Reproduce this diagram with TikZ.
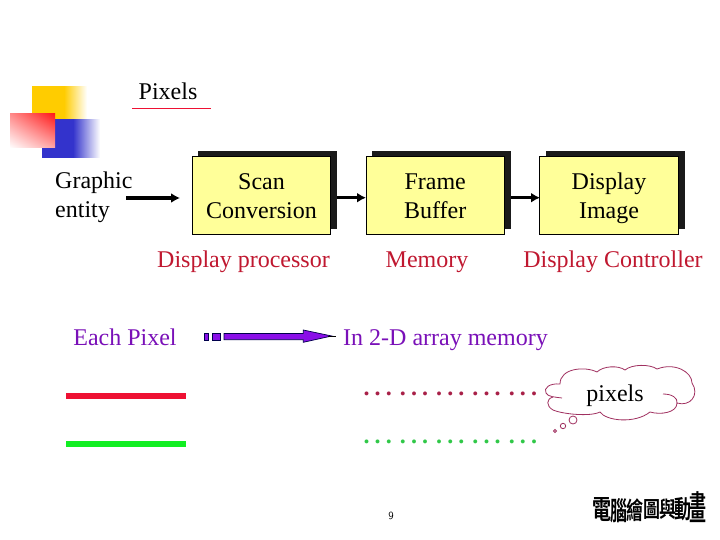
\documentclass[tikz,border=0pt]{standalone}
\usepackage{fontspec}
\setmainfont{Liberation Serif}
\newfontfamily\cjkb{Noto Sans CJK TC Bold}
\usetikzlibrary{arrows.meta,shadings}
\definecolor{boxfill}{HTML}{FFFF99}
\definecolor{shadowc}{HTML}{1A1A1A}
\definecolor{goldc}{HTML}{FFCC00}
\definecolor{bluec}{HTML}{3333CC}
\definecolor{redc}{HTML}{FF1A1A}
\definecolor{purplec}{HTML}{8A0FE8}
\definecolor{linered}{HTML}{EE1133}
\definecolor{linegreen}{HTML}{11EE22}
\definecolor{cloudc}{HTML}{A03060}
\definecolor{labelpurple}{HTML}{7A10B8}
\definecolor{labelred}{HTML}{C01830}
\definecolor{dotred}{HTML}{A82048}
\definecolor{dotgreen}{HTML}{30C848}
\newcommand{\dotgroup}{.\kern5.1pt.\kern5.1pt.}
\newcommand{\dotrow}{\bfseries\dotgroup\kern8.1pt\dotgroup\kern8.1pt\dotgroup\kern8.1pt\dotgroup\kern8.1pt\dotgroup}
\newcommand{\boxline}[1]{\strut\raisebox{-3pt}{#1}}
\tikzset{
 lbl/.style={font=\fontsize{24}{29}\selectfont,inner sep=0pt,anchor=base},
 boxn/.style={draw=black,line width=1pt,fill=boxfill,minimum width=138.4pt,minimum height=77.6pt,inner sep=0pt,align=center,font=\fontsize{24}{29}\selectfont},
 shadow/.style={fill=shadowc,draw=none},
 conn/.style={line width=3.2pt,-{Latex[length=9pt,width=10pt]}},
 cjkc/.style={font=\cjkb\fontsize{20}{20}\selectfont,inner sep=0pt},
 cloudl/.style={draw=cloudc,line width=.8pt},
 parrow/.style={fill=purplec,draw=black!70!blue,line width=.7pt}
}
\begin{document}
\begin{tikzpicture}[x=1pt,y=-1pt]
\useasboundingbox (0,0) rectangle (720,540);
\fill[white] (0,0) rectangle (720,540);
% logo
\fill[goldc] (32,86) rectangle (64,119);
\foreach \i in {0,...,23}{
  \pgfmathsetmacro{\p}{100-\i*100/23}
  \fill[goldc!\p!white] (64+\i,86) rectangle (65.3+\i,119);
}
\fill[bluec] (42,119) rectangle (73,158);
\foreach \i in {0,...,27}{
  \pgfmathsetmacro{\p}{100-\i*100/27}
  \fill[bluec!\p!white] (73+\i,119) rectangle (74.3+\i,158);
}
\shade[lower left=white,upper right=redc,upper left=red!45!white,lower right=red!35!white] (10,114) rectangle (55,148);
% title
\node[lbl] (pix) at (168,99.6) {Pixels};
\draw[draw=linered,line width=.7pt] (132,108) -- (211,108);
% shadows
\fill[shadow] (198.3,151) rectangle (336.7,229.5);
\fill[shadow] (372,151) rectangle (510.5,229.5);
\fill[shadow] (546,151) rectangle (684.5,229.5);
% boxes
\node[boxn] (scan) at (261.5,195.5) {\boxline{Scan}\\\boxline{Conversion}};
\node[boxn] (frame) at (435.2,195.5) {\boxline{Frame}\\\boxline{Buffer}};
\node[boxn] (disp) at (609,195.5) {\boxline{Display}\\\boxline{Image}};
\node[lbl,anchor=base west] (ge1) at (55,189) {Graphic};
\node[lbl,anchor=base west] (ge2) at (55,218) {entity};
\coordinate (a1s) at (126,198);
\coordinate (a1e) at (180,198);
\coordinate (a2s) at (337,197.7);
\coordinate (a2e) at (366,197.7);
\coordinate (a3s) at (511,197.7);
\coordinate (a3e) at (540,197.7);
\draw[conn] (a1s) -- (a1e);
\draw[conn] (a2s) -- (a2e);
\draw[conn] (a3s) -- (a3e);
\node[lbl,text=labelred] (dp) at (243.5,267) {Display processor};
\node[lbl,text=labelred] (mem) at (427,267) {Memory};
\node[lbl,text=labelred] (dc) at (613,267) {Display Controller};
\node[lbl,text=labelpurple] (ep) at (125,345) {Each Pixel};
\node[lbl,text=labelpurple] (arr) at (445.5,345) {In 2-D array memory};
% big arrow
\path[parrow] (204.3,333.3) rectangle (208.7,340);
\path[parrow] (212.3,333.3) rectangle (220.7,340);
\path[parrow] (224,333.5) -- (303.3,333.5) -- (303.3,330) -- (331.7,336) -- (303.3,342.3) -- (303.3,339.7) -- (224,339.7) -- cycle;
\draw[line width=1pt] (328,336) -- (336,336);
% lines
\fill[linered] (66,393) rectangle (186,399);
\fill[linegreen] (66,441) rectangle (186,447);
\node[lbl,anchor=base west,text=dotred] (dr) at (363.4,395.6) {\dotrow};
\node[lbl,anchor=base west,text=dotgreen] (dg) at (363.4,443.3) {\dotrow};
% cloud
\path[cloudl,fill=white]
 (553,397) .. controls (546,399) and (546,406) .. (553,410)
 .. controls (562,414) and (590,417) .. (600,412)
 .. controls (606,421) and (635,424) .. (650,412)
 .. controls (660,415) and (677,413) .. (677,403)
 .. controls (690,407) and (700,395) .. (692,383)
 .. controls (692,372) and (675,362) .. (657,369)
 .. controls (650,364) and (632,364) .. (625,370)
 .. controls (618,365) and (603,366) .. (597,372)
 .. controls (585,366) and (560,368) .. (560,384)
 .. controls (550,383) and (543,388) .. (546,393)
 .. controls (548,397) and (555,397) .. (562,398);
\path[cloudl] (663,394) .. controls (672,394) and (678,398) .. (677,403);
\path[cloudl,fill=white] (573,420) circle (4);
\path[cloudl,fill=white] (563,426) circle (2.7);
\path[cloudl,fill=white] (555,431) circle (1.5);
\node[lbl] (px) at (615,401) {pixels};
% number
\node[font=\sffamily\fontsize{11}{13}\selectfont,inner sep=0pt] (num) at (391,516) {9};
% chinese
\node[cjkc,xscale=.95,yscale=1.35] (c1) at (602,510) {電};
\node[cjkc,xscale=.85,yscale=1.3] (c2) at (619,511) {腦};
\node[cjkc,xscale=.85,yscale=1.2] (c3) at (635,510) {繪};
\node[cjkc,xscale=.85,yscale=1.1] (c4) at (652,509) {圖};
\node[cjkc,xscale=.85,yscale=1.1] (c5) at (668,509) {與};
\node[cjkc,xscale=.85,yscale=1.25] (c6) at (683,509) {動};
\node[cjkc,xscale=.85,yscale=1.7] (c7) at (698,507) {畫};
\end{tikzpicture}
\end{document}
